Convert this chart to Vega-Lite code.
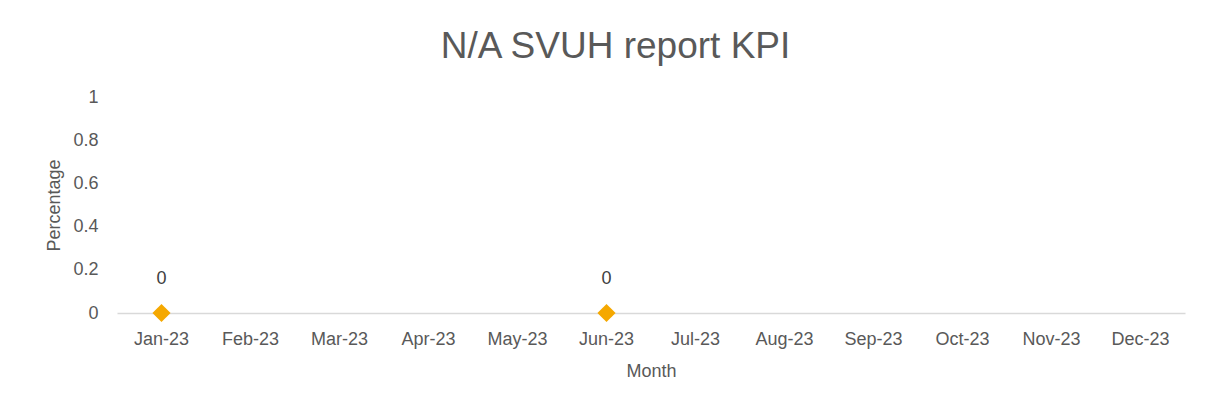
{
  "$schema": "https://vega.github.io/schema/vega-lite/v6.json",
  "width": 1068,
  "height": 216,
  "autosize": {"type": "none"},
  "padding": {"left": 117, "top": 97, "right": 42, "bottom": 103},
  "background": "white",
  "title": {
    "text": "N/A SVUH report KPI",
    "font": "Liberation Sans",
    "fontSize": 37,
    "fontWeight": "normal",
    "color": "#595959",
    "anchor": "middle",
    "frame": "bounds",
    "offset": 22
  },
  "config": {
    "view": {"stroke": null},
    "axis": {
      "labelFont": "Liberation Sans",
      "titleFont": "Liberation Sans",
      "labelColor": "#595959",
      "titleColor": "#595959",
      "labelFontSize": 18,
      "titleFontSize": 18,
      "titleFontWeight": "normal",
      "grid": false,
      "ticks": false
    }
  },
  "data": {
    "values": [
      {"month": "Jan-23", "value": 0},
      {"month": "Jun-23", "value": 0}
    ]
  },
  "encoding": {
    "x": {
      "field": "month",
      "type": "ordinal",
      "sort": null,
      "scale": {
        "type": "band",
        "domain": ["Jan-23", "Feb-23", "Mar-23", "Apr-23", "May-23", "Jun-23", "Jul-23", "Aug-23", "Sep-23", "Oct-23", "Nov-23", "Dec-23"],
        "paddingInner": 0,
        "paddingOuter": 0
      },
      "axis": {
        "title": "Month",
        "labelAngle": 0,
        "domainColor": "#d9d9d9",
        "domainWidth": 1.5,
        "labelPadding": 17,
        "titlePadding": 14
      }
    },
    "y": {
      "field": "value",
      "type": "quantitative",
      "scale": {"domain": [0, 1]},
      "axis": {
        "title": "Percentage",
        "values": [0, 0.2, 0.4, 0.6, 0.8, 1],
        "format": "~g",
        "domain": false,
        "labelPadding": 19,
        "titlePadding": 9
      }
    }
  },
  "layer": [
    {
      "mark": {"type": "point", "shape": "diamond", "filled": true, "size": 330, "color": "#F5A800", "opacity": 1}
    },
    {
      "mark": {"type": "text", "dy": -34, "font": "Liberation Sans", "fontSize": 18, "color": "#404040"},
      "encoding": {"text": {"field": "value", "type": "quantitative"}}
    }
  ]
}
